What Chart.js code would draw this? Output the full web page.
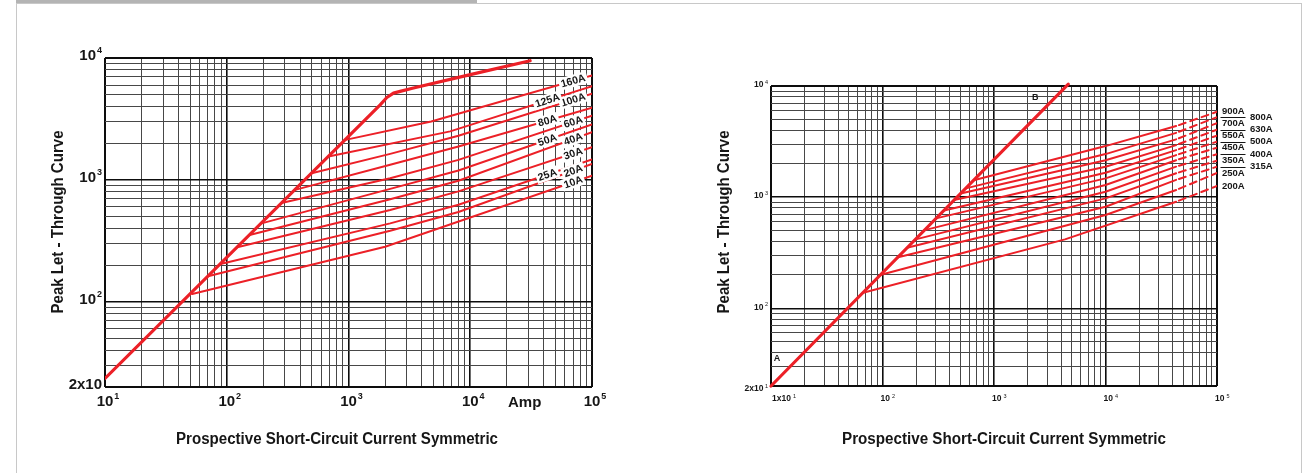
<!DOCTYPE html>
<html><head><meta charset="utf-8">
<script src="https://cdn.jsdelivr.net/npm/chart.js@4.4.1/dist/chart.umd.min.js"></script>
<style>
html,body{margin:0;padding:0;background:#fff;width:1306px;height:473px;overflow:hidden;}
#frame{position:absolute;left:16px;top:3px;width:1286px;height:480px;border-left:1px solid #c8c8c8;border-top:1px solid #c8c8c8;border-right:1px solid #c8c8c8;box-sizing:border-box;}
#bar{position:absolute;left:16px;top:0;width:461px;height:3px;background:#b4b4b4;}
canvas{position:absolute;top:0;}
#c1{left:0}#c2{left:650px}
</style></head><body>
<div id="frame"></div><div id="bar"></div>
<canvas id="c1" width="650" height="473"></canvas>
<canvas id="c2" width="656" height="473"></canvas>
<script>
// ---------------- DATA ----------------
const yAxisTitle = 'Peak Let - Through Curve';
const xAxisTitle = 'Prospective Short-Circuit Current Symmetric';

// Left chart
const leftXTickValues = [10, 100, 1000, 10000, 100000];
const leftXTickText = [['10','1'],['10','2'],['10','3'],['10','4'],['10','5']];
const leftYTickValues = [10000, 1000, 100, 20];
const leftYTickText = [['10','4'],['10','3'],['10','2'],['2x10','']];
const leftXUnit = 'Amp';

const leftEnvelope = [[10,23.5],[1820,4130],[2065,4740],[2340,5150],[2655,5320],[3415,5670],[10000,7300],[31000,9500]];
const left10A  = [[52,116],[2000,283],[100000,1085]];
const left20A  = [[70,162],[2200,383],[8000,545],[100000,1350]];
const left25A  = [[89,204],[2200,440],[8000,625],[100000,1470]];
const left30A  = [[122,280],[2200,567],[8000,805],[100000,1855]];
const left40A  = [[154,353],[2200,694],[8000,985],[100000,2465]];
const left50A  = [[193,440],[2200,844],[8000,1195],[100000,2845]];
const left60A  = [[287,650],[2200,1030],[8000,1460],[100000,3370]];
const left80A  = [[364,828],[2200,1330],[8000,1880],[100000,3910]];
const left100A = [[498,1135],[2200,1635],[8000,2300],[100000,5085]];
const left125A = [[685,1553],[6840,2500],[100000,5880]];
const left160A = [[945,2130],[4780,3010],[100000,7190]];
const leftRatings = ['10A','20A','25A','30A','40A','50A','60A','80A','100A','125A','160A'];
const leftCurves = [left10A,left20A,left25A,left30A,left40A,left50A,left60A,left80A,left100A,left125A,left160A];

// Right chart
const rightXTickValues = [10, 100, 1000, 10000, 100000];
const rightXTickText = [['1x10','1'],['10','2'],['10','3'],['10','4'],['10','5']];
const rightYTickValues = [10000, 1000, 100, 20];
const rightYTickText = [['10','4'],['10','3'],['10','2'],['2x10','1']];

const rightEnvelope = [[10,20],[4640,10400]];
const right200A = [[67,138],[4330,417],[43000,910],[100000,1260]];
const right250A = [[95,199],[10000,690],[43000,1160],[100000,1650]];
const right315A = [[135,287],[10000,819],[43000,1430],[100000,1880]];
const right350A = [[166,350],[10000,975],[43000,1640],[100000,2130]];
const right400A = [[198,417],[10000,1117],[43000,1880],[100000,2440]];
const right450A = [[239,505],[10000,1285],[43000,2150],[100000,2790]];
const right500A = [[302,644],[10000,1475],[43000,2390],[100000,3160]];
const right550A = [[356,760],[10000,1660],[43000,2650],[100000,3580]];
const right630A = [[438,942],[10000,1880],[43000,2940],[100000,4050]];
const right700A = [[502,1080],[10000,2150],[43000,3310],[100000,4640]];
const right800A = [[559,1200],[10000,2440],[43000,3790],[100000,5250]];
const right900A = [[658,1422],[10000,2880],[43000,4360],[100000,5860]];
const rightRatings = ['200A','250A','315A','350A','400A','450A','500A','550A','630A','700A','800A','900A'];
const rightCurves = [right200A,right250A,right315A,right350A,right400A,right450A,right500A,right550A,right630A,right700A,right800A,right900A];
const rightMarkerText = ['A','B'];

// ---------------- STYLE / LAYOUT ----------------
const FF = '"Liberation Sans", Arial, Helvetica, sans-serif';
const RED = '#ec2027';
const INK = '#161616';
const leftLabelColumn  = ['R','R','L','R','R','L','R','L','R','L','R'];
const rightLabelColumn = ['L','L','R','L','R','L','R','L','R','L','R','L'];
const leftColumnX = {L: 43000, R: 70000};
const ampAtX = 28000;
const rightMarkerAt = [[11.3, 35], [2350, 7900]];

const gridMultiples = [1,2,3,4,5,6,7,8,9];
function logTicks(min, max){
  const out = [];
  [1,10,100,1000,10000,100000].forEach(d => gridMultiples.forEach(m => { const v=d*m; if (v>=min && v<=max) out.push(v); }));
  return Array.from(new Set(out)).sort((a,b)=>a-b);
}
function isDecade(v){ if(!v) return false; const l=Math.log10(v); return Math.abs(l-Math.round(l))<1e-9; }
function toXY(arr){ return arr.map(p=>({x:p[0], y:p[1]})); }
function interpLog(arr, xv){
  for (let i=0;i<arr.length-1;i++){
    const [x0,y0]=arr[i],[x1,y1]=arr[i+1];
    if (xv>=x0 && xv<=x1){
      const t=(Math.log(xv)-Math.log(x0))/(Math.log(x1)-Math.log(x0));
      return Math.exp(Math.log(y0)+t*(Math.log(y1)-Math.log(y0)));
    }
  }
  return arr[arr.length-1][1];
}
function powText(ctx, base, sup, x, y, o){
  ctx.font=o.baseFont; const wb=ctx.measureText(base).width;
  ctx.font=o.supFont; const ws=sup?ctx.measureText(sup).width:0;
  const total=wb+(sup?o.gap+ws:0);
  let x0;
  if(o.align==='right') x0=x-total; else if(o.align==='left') x0=x; else if(o.align==='baseCenter') x0=x-wb/2; else x0=x-total/2;
  ctx.textAlign='left'; ctx.textBaseline='middle';
  ctx.font=o.baseFont; ctx.fillText(base,x0,y);
  if(sup){ ctx.font=o.supFont; ctx.fillText(sup,x0+wb+o.gap,y-o.supDy); }
}
function fitText(ctx, text, cx, cy, font, targetW, rot){
  ctx.save(); ctx.font=font; const w=ctx.measureText(text).width;
  ctx.translate(cx,cy); if(rot) ctx.rotate(rot); ctx.scale(targetW/w,1);
  ctx.textAlign='center'; ctx.textBaseline='middle'; ctx.fillStyle=INK; ctx.fillText(text,0,0); ctx.restore();
}
function axisOpts(min,max){
  return {
    type:'logarithmic', min:min, max:max,
    ticks:{display:false},
    border:{display:false},
    grid:{
      drawTicks:false,
      color: c => { const v=c.tick&&c.tick.value; return (isDecade(v)||v===min||v===max) ? '#0d0d0d' : '#474747'; },
      lineWidth: c => { const v=c.tick&&c.tick.value; return (v===min||v===max) ? 2 : (isDecade(v) ? 1.6 : 1); }
    },
    afterBuildTicks: s => { s.ticks = logTicks(min,max).map(v=>({value:v})); }
  };
}

function drawLeftExtras(chart){
  const {ctx, chartArea:a, scales:{x,y}} = chart;
  ctx.save(); ctx.fillStyle=INK;
  leftYTickValues.forEach((v,i)=>{ const [b,s]=leftYTickText[i];
    powText(ctx,b,s,a.left-3,y.getPixelForValue(v)-2,{align:'right',baseFont:'bold 15px '+FF,supFont:'bold 9px '+FF,supDy:5,gap:1}); });
  leftXTickValues.forEach((v,i)=>{ const [b,s]=leftXTickText[i];
    powText(ctx,b,s,x.getPixelForValue(v),a.bottom+15,{align:'baseCenter',baseFont:'bold 15px '+FF,supFont:'bold 9px '+FF,supDy:5,gap:1}); });
  ctx.font='bold 15px '+FF; ctx.textAlign='center'; ctx.textBaseline='middle';
  ctx.fillText(leftXUnit, x.getPixelForValue(ampAtX), a.bottom+16);
  fitText(ctx, yAxisTitle, 58, 222, 'bold 17px '+FF, 183, -Math.PI/2);
  fitText(ctx, xAxisTitle, 337, 440, 'bold 16px '+FF, 322, 0);
  // rating labels on the curves
  leftCurves.forEach((c,i)=>{
    const xv=leftColumnX[leftLabelColumn[i]];
    const yv=interpLog(c,xv);
    const px=x.getPixelForValue(xv), py=y.getPixelForValue(yv);
    const p1x=x.getPixelForValue(xv/1.3), p1y=y.getPixelForValue(interpLog(c,xv/1.3));
    const ang=Math.atan2(py-p1y, px-p1x);
    ctx.save(); ctx.translate(px,py); ctx.rotate(ang);
    ctx.font='bold 10.5px '+FF; const w=ctx.measureText(leftRatings[i]).width;
    ctx.fillStyle='#fff'; ctx.fillRect(-w/2-2,-6,w+4,12);
    ctx.fillStyle=INK; ctx.textAlign='center'; ctx.textBaseline='middle'; ctx.fillText(leftRatings[i],0,0.5);
    ctx.restore();
  });
  ctx.restore();
}

function drawRightExtras(chart){
  const {ctx, chartArea:a, scales:{x,y}} = chart;
  ctx.save(); ctx.fillStyle=INK;
  rightYTickValues.forEach((v,i)=>{ const [b,s]=rightYTickText[i];
    const dy = (v===20)? 3 : -1;
    powText(ctx,b,s,a.left-3,y.getPixelForValue(v)+dy,{align:'right',baseFont:'bold 8.5px '+FF,supFont:'5.5px '+FF,supDy:3,gap:1.5}); });
  rightXTickValues.forEach((v,i)=>{ const [b,s]=rightXTickText[i];
    powText(ctx,b,s,x.getPixelForValue(v)+(i===0?1:-2),a.bottom+13,{align:'left',baseFont:'bold 8.5px '+FF,supFont:'5.5px '+FF,supDy:3,gap:2}); });
  fitText(ctx, yAxisTitle, 74, 222, 'bold 17px '+FF, 183, -Math.PI/2);
  fitText(ctx, xAxisTitle, 354, 440, 'bold 16px '+FF, 324, 0);
  // markers A / B
  ctx.font='bold 9px '+FF; ctx.textAlign='center'; ctx.textBaseline='middle';
  rightMarkerText.forEach((t,i)=>{ ctx.fillText(t, x.getPixelForValue(rightMarkerAt[i][0]), y.getPixelForValue(rightMarkerAt[i][1])); });
  // rating labels at right
  ctx.font='bold 9.5px '+FF; ctx.textAlign='left';
  rightCurves.forEach((c,i)=>{
    const py=y.getPixelForValue(c[c.length-1][1]);
    const col=rightLabelColumn[i];
    const px = col==='L' ? a.right+5 : a.right+33;
    ctx.fillText(rightRatings[i], px, py);
    if(col==='R'){
      ctx.strokeStyle=INK; ctx.lineWidth=1;
      ctx.beginPath(); ctx.moveTo(a.right+3.5, Math.round(py)+0.5); ctx.lineTo(a.right+28.5, Math.round(py)+0.5); ctx.stroke();
    }
  });
  ctx.restore();
}

function makeChart(id, padding, datasets, drawExtras){
  return new Chart(document.getElementById(id), {
    type:'line',
    data:{datasets},
    options:{
      responsive:false, animation:false, devicePixelRatio:1,
      layout:{padding},
      elements:{point:{radius:0}, line:{tension:0, borderCapStyle:'round', borderJoinStyle:'round'}},
      plugins:{legend:{display:false}, tooltip:{enabled:false}, title:{display:false}},
      scales:{ x: axisOpts(10,100000), y: axisOpts(20,10000) }
    },
    plugins:[{id:'extras', afterDraw: drawExtras}]
  });
}

const leftDatasets = [
  {data: toXY(leftEnvelope), borderColor: RED, borderWidth: 3.2, fill:false},
  ...leftCurves.map(c=>({data: toXY(c), borderColor: RED, borderWidth: 2, fill:false}))
];
makeChart('c1', {left:105, top:58, right:58, bottom:86}, leftDatasets, drawLeftExtras);

const rightDatasets = [
  {data: toXY(rightEnvelope), borderColor: RED, borderWidth: 3.2, fill:false, clip:false},
  ...rightCurves.map(c=>({data: toXY(c), borderColor: RED, borderWidth: 2, fill:false,
     segment:{
       borderDash: ctx => ctx.p1DataIndex === c.length-1 ? [7,5] : undefined,
       borderDashOffset: ctx => ctx.p1DataIndex === c.length-1 ? 9 : 0
     }}))
];
makeChart('c2', {left:121, top:86, right:89, bottom:87}, rightDatasets, drawRightExtras);
</script></body></html>
